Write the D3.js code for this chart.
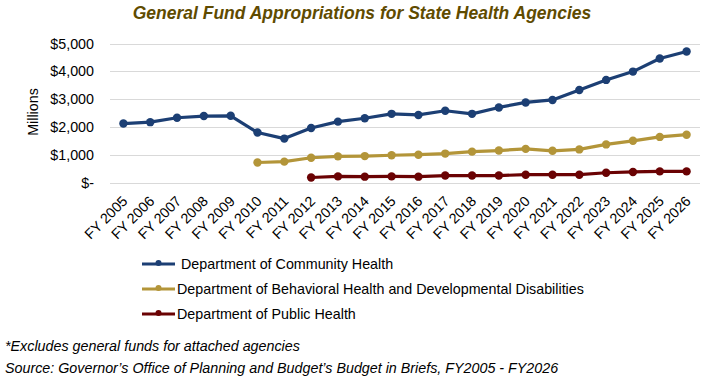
<!DOCTYPE html>
<html>
<head>
<meta charset="utf-8">
<script src="https://cdn.jsdelivr.net/npm/d3@7"></script>
<style>
  body { margin: 0; background: #fff; }
  svg { font-family: "Liberation Sans", Arial, sans-serif; }
</style>
</head>
<body>
<svg id="chart" width="704" height="377"></svg>
<script>
// fiscal years on the x axis
const years = ["FY 2005", "FY 2006", "FY 2007", "FY 2008", "FY 2009", "FY 2010", "FY 2011",
  "FY 2012", "FY 2013", "FY 2014", "FY 2015", "FY 2016", "FY 2017", "FY 2018", "FY 2019",
  "FY 2020", "FY 2021", "FY 2022", "FY 2023", "FY 2024", "FY 2025", "FY 2026"];

// millions of dollars, null = agency did not exist yet
const communityHealth = [2120, 2170, 2330, 2390, 2400, 1800, 1580, 1960, 2190, 2310, 2470, 2430,
  2580, 2470, 2700, 2880, 2970, 3330, 3690, 3990, 4460, 4710];
const behavioralHealth = [null, null, null, null, null, 720, 750, 890, 940, 950, 980, 1000,
  1040, 1110, 1150, 1210, 1140, 1190, 1370, 1500, 1640, 1720];
const publicHealth = [null, null, null, null, null, null, null, 180, 220, 210, 220, 210,
  250, 250, 250, 280, 280, 280, 350, 380, 400, 400];

const yTicks = [0, 1000, 2000, 3000, 4000, 5000];

const seriesNames = ["Department of Community Health",
  "Department of Behavioral Health and Developmental Disabilities",
  "Department of Public Health"];
const seriesColors = ["#1c3f74", "#b39539", "#6a0203"];
const seriesValues = [communityHealth, behavioralHealth, publicHealth];

const svg = d3.select("#chart");
const margin = { top: 43, left: 110, right: 4, bottom: 195 };

const x = d3.scaleBand()
  .domain(years)
  .range([margin.left, 704 - margin.right]);

const y = d3.scaleLinear()
  .domain([0, 5000])
  .range([182.5, 43.5]);

// title
svg.append("text")
  .attr("x", 362)
  .attr("y", 19)
  .attr("text-anchor", "middle")
  .attr("font-size", 17.5)
  .attr("font-weight", "bold")
  .attr("font-style", "italic")
  .attr("fill", "#5f4b00")
  .text("General Fund Appropriations for State Health Agencies");

// gridlines
svg.append("g")
  .selectAll("line")
  .data(yTicks)
  .join("line")
  .attr("x1", x.range()[0])
  .attr("x2", x.range()[1])
  .attr("y1", d => Math.round(y(d)) + 0.5)
  .attr("y2", d => Math.round(y(d)) + 0.5)
  .attr("stroke", "#d9d9d9")
  .attr("stroke-width", 1);

// y axis labels
const fmt = d => d === 0 ? "$-" : "$" + d3.format(",")(d);
const yAxis = svg.append("g")
  .attr("transform", `translate(${margin.left - 16},0)`)
  .call(d3.axisLeft(y).tickValues(yTicks).tickFormat(fmt).tickSize(0).tickPadding(0));
yAxis.select(".domain").remove();
yAxis.selectAll("text")
  .attr("font-size", 14.3)
  .attr("font-family", "Liberation Sans, Arial, sans-serif")
  .attr("fill", "#000");

svg.append("text")
  .attr("transform", `translate(38,112) rotate(-90)`)
  .attr("text-anchor", "middle")
  .attr("font-size", 14.3)
  .text("Millions");

// x axis labels
const xAxis = svg.append("g")
  .attr("transform", `translate(0,190)`)
  .call(d3.axisBottom(x).tickSize(0).tickPadding(0));
xAxis.select(".domain").remove();
xAxis.selectAll("text")
  .attr("font-size", 14.3)
  .attr("font-family", "Liberation Sans, Arial, sans-serif")
  .attr("fill", "#000")
  .attr("text-anchor", "end")
  .attr("dy", "0.7em")
  .attr("transform", "translate(-2,5) rotate(-45)");

// lines and markers
const line = d3.line()
  .defined(d => d.v != null)
  .x(d => x(d.year) + x.bandwidth() / 2)
  .y(d => y(d.v));

seriesValues.forEach((vals, i) => {
  const pts = years.map((yr, j) => ({ year: yr, v: vals[j] }));
  svg.append("path")
    .datum(pts)
    .attr("fill", "none")
    .attr("stroke", seriesColors[i])
    .attr("stroke-width", 3.2)
    .attr("stroke-linejoin", "round")
    .attr("d", line);
  svg.append("g")
    .selectAll("circle")
    .data(pts.filter(d => d.v != null))
    .join("circle")
    .attr("cx", d => x(d.year) + x.bandwidth() / 2)
    .attr("cy", d => y(d.v))
    .attr("r", 4.2)
    .attr("fill", seriesColors[i]);
});

// legend
const legend = svg.append("g");
seriesNames.forEach((name, i) => {
  const ly = 264 + i * 25;
  legend.append("line")
    .attr("x1", 142).attr("x2", 175)
    .attr("y1", ly).attr("y2", ly)
    .attr("stroke", seriesColors[i])
    .attr("stroke-width", 3.2);
  legend.append("circle")
    .attr("cx", 158.5).attr("cy", ly - 1)
    .attr("r", 3)
    .attr("fill", seriesColors[i]);
  legend.append("text")
    .attr("x", i === 0 ? 181 : 177)
    .attr("y", ly + 5)
    .attr("font-size", 14.3)
    .text(name);
});

// footnotes
svg.append("text")
  .attr("x", 5).attr("y", 351)
  .attr("font-size", 14.3)
  .attr("font-style", "italic")
  .text("*Excludes general funds for attached agencies");
svg.append("text")
  .attr("x", 5).attr("y", 373)
  .attr("font-size", 14.3)
  .attr("font-style", "italic")
  .text("Source: Governor\u2019s Office of Planning and Budget\u2019s Budget in Briefs, FY2005 - FY2026");
</script>
</body>
</html>
